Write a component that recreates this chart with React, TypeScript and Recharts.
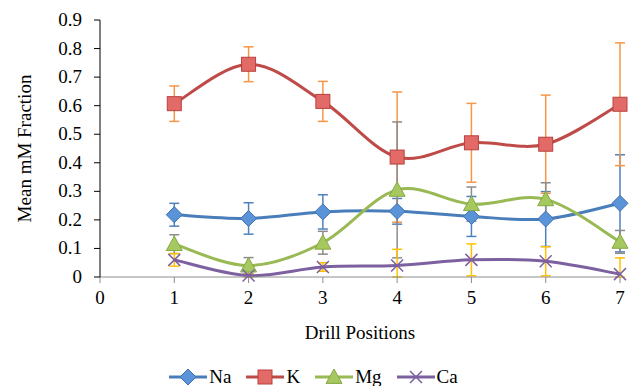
import React from "react";
import { LineChart, Line, XAxis, YAxis, ErrorBar } from "recharts";

const positions = [1, 2, 3, 4, 5, 6, 7];
const naValues = [0.218, 0.205, 0.228, 0.23, 0.212, 0.203, 0.258];
const naErrors = [0.04, 0.055, 0.06, 0.045, 0.07, 0.096, 0.17];
const kValues = [0.607, 0.745, 0.615, 0.42, 0.47, 0.465, 0.605];
const kErrors = [0.062, 0.061, 0.07, 0.228, 0.138, 0.172, 0.215];
const mgValues = [0.115, 0.04, 0.12, 0.305, 0.255, 0.272, 0.123];
const mgErrors = [0.033, 0.028, 0.04, 0.238, 0.06, 0.058, 0.04];
const caValues = [0.06, 0.005, 0.035, 0.04, 0.06, 0.055, 0.01];
const caErrorsLow = [0.022, 0.005, 0.015, 0.04, 0.056, 0.051, 0.01];
const caErrorsHigh = [0.022, 0.005, 0.015, 0.057, 0.056, 0.051, 0.057];
const xTicks = [0, 1, 2, 3, 4, 5, 6, 7];
const yTicks = [0, 0.1, 0.2, 0.3, 0.4, 0.5, 0.6, 0.7, 0.8, 0.9];

const data = positions.map((p, i) => ({
  pos: p,
  Na: naValues[i], naErr: naErrors[i],
  K: kValues[i], kErr: kErrors[i],
  Mg: mgValues[i], mgErr: mgErrors[i],
  Ca: caValues[i], caErr: [caErrorsLow[i], caErrorsHigh[i]],
}));

const FONT = "'Liberation Serif', 'Times New Roman', serif";
const FS = 19;

const excelCurve = (context: any) => {
  let pts: [number, number][] = [];
  return {
    areaStart() {},
    areaEnd() {},
    lineStart() { pts = []; },
    point(x: number, y: number) { pts.push([+x, +y]); },
    lineEnd() {
      const n = pts.length;
      if (!n) return;
      context.moveTo(pts[0][0], pts[0][1]);
      for (let i = 0; i < n - 1; i++) {
        const p0 = pts[i - 1] || pts[i];
        const p1 = pts[i];
        const p2 = pts[i + 1];
        const p3 = pts[i + 2] || p2;
        context.bezierCurveTo(
          p1[0] + (p2[0] - p0[0]) / 6, p1[1] + (p2[1] - p0[1]) / 6,
          p2[0] - (p3[0] - p1[0]) / 6, p2[1] - (p3[1] - p1[1]) / 6,
          p2[0], p2[1]
        );
      }
    },
  };
};

const SERIES = [
  { key: "Na", err: "naErr", line: "#4a7ebb", errColor: "#4f81bd", shape: "diamond" },
  { key: "K", err: "kErr", line: "#be4b48", errColor: "#f79646", shape: "square" },
  { key: "Mg", err: "mgErr", line: "#98b954", errColor: "#8c8c8c", shape: "triangle" },
  { key: "Ca", err: "caErr", line: "#7d60a0", errColor: "#ffc000", shape: "x" },
];

const Marker = ({ cx, cy, shape }: { cx: number; cy: number; shape: string }) => {
  if (cx == null || cy == null) return null;
  if (shape === "diamond") {
    const r = 8;
    return (
      <path d={`M${cx},${cy - r}L${cx + r},${cy}L${cx},${cy + r}L${cx - r},${cy}Z`}
        fill="#5b93d9" stroke="#3f72b0" strokeWidth={1} />
    );
  }
  if (shape === "square") {
    const s = 7;
    return <rect x={cx - s} y={cy - s} width={2 * s} height={2 * s} fill="#e26a67" stroke="#b8413e" strokeWidth={1} />;
  }
  if (shape === "triangle") {
    const r = 8;
    return (
      <path d={`M${cx},${cy - r}L${cx + r},${cy + r * 0.8}L${cx - r},${cy + r * 0.8}Z`}
        fill="#a5c95e" stroke="#86a845" strokeWidth={1} />
    );
  }
  const r = 6;
  return (
    <path d={`M${cx - r},${cy - r}L${cx + r},${cy + r}M${cx - r},${cy + r}L${cx + r},${cy - r}`}
      stroke="#7d60a0" strokeWidth={1.5} fill="none" />
  );
};

const XTick = (props: any) => {
  const { x, y, payload } = props;
  return (
    <text x={x} y={y + 19} textAnchor="middle" fill="#000" style={{ fontFamily: FONT, fontSize: FS }}>
      {payload.value}
    </text>
  );
};

const YTick = (props: any) => {
  const { x, y, payload } = props;
  const v = payload.value === 0 ? "0" : Number(payload.value).toFixed(1);
  return (
    <text x={x} y={y + 6} textAnchor="end" fill="#000" style={{ fontFamily: FONT, fontSize: FS }}>
      {v}
    </text>
  );
};

const XLabel = (props: any) => {
  const vb = props.viewBox || {};
  const cx = vb.x + vb.width / 2;
  return (
    <text x={cx} y={339} textAnchor="middle" fill="#000" style={{ fontFamily: FONT, fontSize: FS }}>
      Drill Positions
    </text>
  );
};

const YLabel = (props: any) => {
  const vb = props.viewBox || {};
  const cy = vb.y + vb.height / 2;
  const cx = 31;
  return (
    <text x={cx} y={cy} textAnchor="middle" fill="#000" transform={`rotate(-90, ${cx}, ${cy})`} style={{ fontFamily: FONT, fontSize: FS }}>
      Mean mM Fraction
    </text>
  );
};

const LegendBox = () => (
  <div style={{ position: "absolute", left: 0, top: 366, width: 638, display: "flex", justifyContent: "center", alignItems: "center", fontFamily: FONT, fontSize: FS, color: "#000", paddingLeft: 4, boxSizing: "border-box" }}>
    {SERIES.map((s) => (
      <div key={s.key} style={{ display: "flex", alignItems: "center", marginRight: 15 }}>
        <svg width={38} height={22}>
          <line x1={0} y1={11} x2={38} y2={11} stroke={s.line} strokeWidth={3} />
          <Marker cx={19} cy={11} shape={s.shape} />
        </svg>
        <span style={{ marginLeft: 2, lineHeight: "22px" }}>{s.key}</span>
      </div>
    ))}
  </div>
);

export default function App() {
  return (
    <div style={{ position: "absolute", left: 0, top: 0, width: 638, height: 386, background: "#fff", fontFamily: FONT }}>
      <LineChart width={638} height={386} data={data} margin={{ top: 20, right: 18, bottom: 0, left: 0 }}>
        <XAxis
          dataKey="pos"
          type="number"
          domain={[0, 7]}
          ticks={xTicks}
          interval={0}
          height={109}
          stroke="#8c8c8c"
          tickSize={6}
          tickMargin={2}
          tick={<XTick />}
          label={<XLabel />}
        />
        <YAxis
          type="number"
          domain={[0, 0.9]}
          ticks={yTicks}
          interval={0}
          width={100}
          stroke="#000"
          tickSize={6}
          tickMargin={12}
          tick={<YTick />}
          label={<YLabel />}
        />
        {SERIES.map((s) => (
          <Line
            key={s.key}
            dataKey={s.key}
            type={excelCurve as any}
            stroke={s.line}
            strokeWidth={3}
            isAnimationActive={false}
            dot={(p: any) => <Marker key={`${s.key}-${p.index}`} cx={p.cx} cy={p.cy} shape={s.shape} />}
            activeDot={false}
          >
            <ErrorBar dataKey={s.err} direction="y" stroke={s.errColor} strokeWidth={1.5} width={5} />
          </Line>
        ))}
      </LineChart>
      <LegendBox />
    </div>
  );
}
